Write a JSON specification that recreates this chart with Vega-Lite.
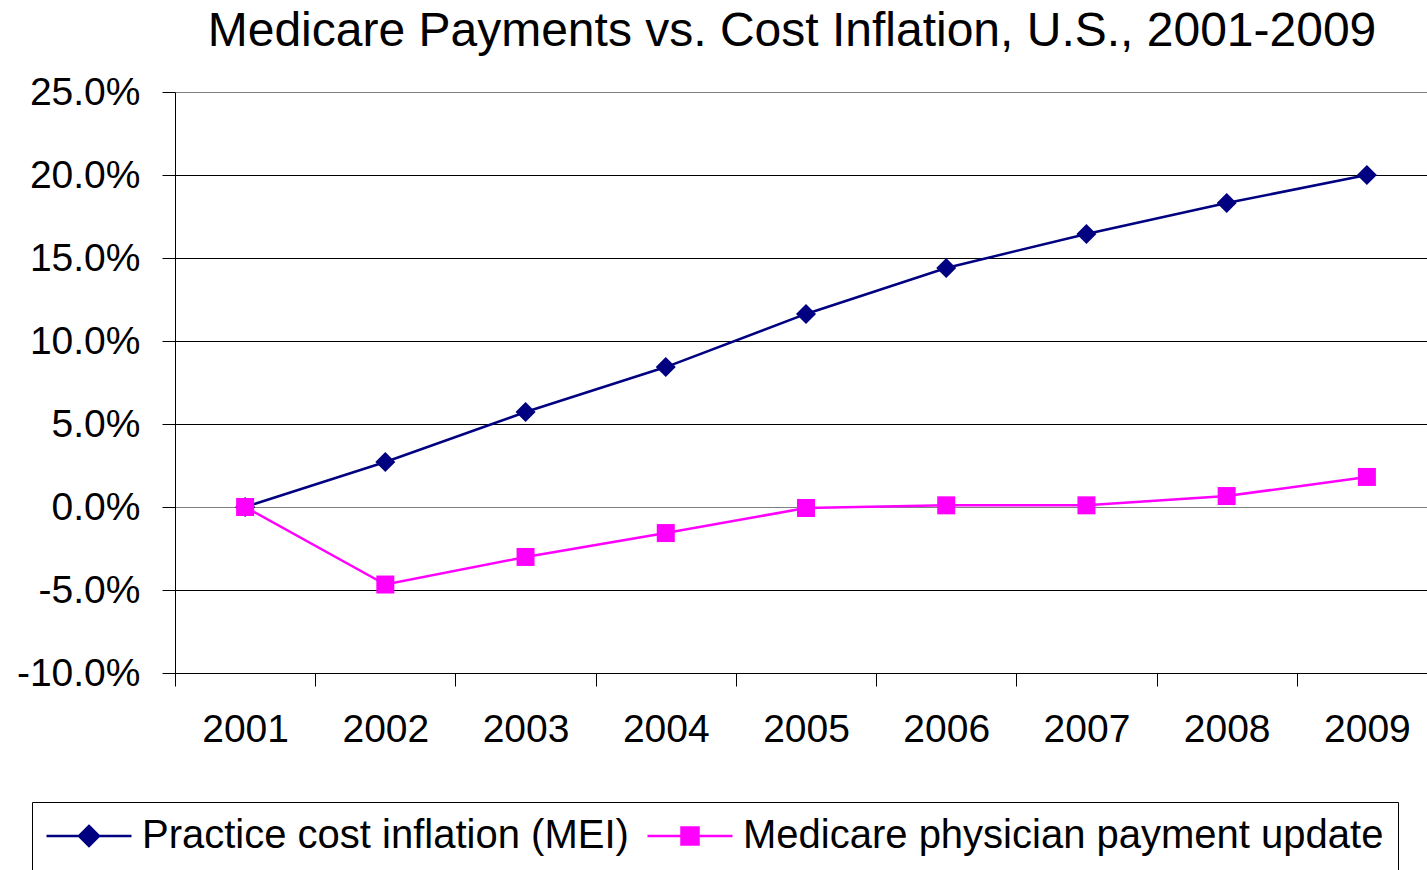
{
  "$schema": "https://vega.github.io/schema/vega-lite/v6.json",
  "width": 1262,
  "height": 581,
  "autosize": {"type": "none"},
  "padding": {"left": 175, "top": 92, "right": 0, "bottom": 197},
  "background": "white",
  "config": {
    "view": {"stroke": null},
    "font": "Liberation Sans"
  },
  "title": {
    "text": "Medicare Payments vs. Cost Inflation, U.S., 2001-2009",
    "font": "Liberation Sans",
    "fontSize": 48,
    "fontWeight": "normal",
    "color": "black",
    "anchor": "middle",
    "baseline": "alphabetic",
    "offset": -21,
    "dx": -14
  },
  "data": {
    "values": [
      {"year": "2001", "series": "Practice cost inflation (MEI)", "value": 0.0},
      {"year": "2002", "series": "Practice cost inflation (MEI)", "value": 0.0271},
      {"year": "2003", "series": "Practice cost inflation (MEI)", "value": 0.0572},
      {"year": "2004", "series": "Practice cost inflation (MEI)", "value": 0.0843},
      {"year": "2005", "series": "Practice cost inflation (MEI)", "value": 0.1163},
      {"year": "2006", "series": "Practice cost inflation (MEI)", "value": 0.1440},
      {"year": "2007", "series": "Practice cost inflation (MEI)", "value": 0.1645},
      {"year": "2008", "series": "Practice cost inflation (MEI)", "value": 0.1831},
      {"year": "2009", "series": "Practice cost inflation (MEI)", "value": 0.2000},
      {"year": "2001", "series": "Medicare physician payment update", "value": 0.0},
      {"year": "2002", "series": "Medicare physician payment update", "value": -0.0467},
      {"year": "2003", "series": "Medicare physician payment update", "value": -0.0301},
      {"year": "2004", "series": "Medicare physician payment update", "value": -0.0157},
      {"year": "2005", "series": "Medicare physician payment update", "value": -0.0006},
      {"year": "2006", "series": "Medicare physician payment update", "value": 0.0010},
      {"year": "2007", "series": "Medicare physician payment update", "value": 0.0010},
      {"year": "2008", "series": "Medicare physician payment update", "value": 0.0066},
      {"year": "2009", "series": "Medicare physician payment update", "value": 0.0181}
    ]
  },
  "encoding": {
    "x": {
      "field": "year",
      "type": "ordinal",
      "bandPosition": 0.5,
      "scale": {"type": "band", "paddingInner": 0, "paddingOuter": 0},
      "axis": {
        "title": null,
        "labelAngle": 0,
        "labelFont": "Liberation Sans",
        "labelFontSize": 39,
        "labelColor": "black",
        "labelPadding": 24,
        "tickBand": "extent",
        "tickSize": 13,
        "tickColor": "black",
        "tickWidth": 1,
        "domainColor": "black",
        "domainWidth": 1,
        "grid": false
      }
    },
    "y": {
      "field": "value",
      "type": "quantitative",
      "scale": {"domain": [-0.1, 0.25], "nice": false, "zero": false},
      "axis": {
        "title": null,
        "labelExpr": "replace(format(datum.value, '.1%'), '\u2212', '-')",
        "values": [-0.1, -0.05, 0, 0.05, 0.1, 0.15, 0.2, 0.25],
        "labelFont": "Liberation Sans",
        "labelFontSize": 39,
        "labelColor": "black",
        "labelPadding": 22,
        "tickSize": 13,
        "tickColor": "black",
        "tickWidth": 1,
        "domainColor": "black",
        "domainWidth": 1,
        "grid": true,
        "gridColor": {"condition": {"test": "datum.value === 0 || datum.value === 0.25", "value": "#808080"}, "value": "black"},
        "gridWidth": 1,
        "gridOpacity": 1
      }
    },
    "color": {
      "field": "series",
      "type": "nominal",
      "scale": {
        "domain": ["Practice cost inflation (MEI)", "Medicare physician payment update"],
        "range": ["#000080", "#FF00FF"]
      },
      "legend": {
        "title": null,
        "orient": "none",
        "legendX": -143,
        "legendY": 710,
        "direction": "horizontal",
        "columns": 2,
        "columnPadding": 13,
        "labelOffset": 33,
        "symbolOffset": 23,
        "labelFont": "Liberation Sans",
        "labelFontSize": 40,
        "labelColor": "black",
        "labelLimit": 1000,
        "symbolSize": 400,
        "symbolStrokeWidth": 2.5,
        "strokeColor": "black",
        "padding": 14,
        "fillColor": "white",
        "encode": {
          "symbols": {
            "update": {
              "shape": {"signal": "datum.value === 'Practice cost inflation (MEI)' ? 'M-4.25,0H4.25M0,-1L1,0L0,1L-1,0Z' : 'M-4.25,0H4.25M-0.85,-0.85H0.85V0.85H-0.85Z'"},
              "fill": {"scale": "color", "field": "value"},
              "stroke": {"scale": "color", "field": "value"},
              "strokeWidth": {"value": 2.5},
              "opacity": {"value": 1},
              "fillOpacity": {"value": 1}
            }
          }
        }
      }
    }
  },
  "layer": [
    {
      "mark": {"type": "line", "strokeWidth": 2.5}
    },
    {
      "transform": [{"filter": "datum.series === 'Practice cost inflation (MEI)'"}],
      "mark": {"type": "point", "filled": true, "opacity": 1, "strokeWidth": 0, "shape": "diamond", "size": 400}
    },
    {
      "transform": [{"filter": "datum.series === 'Medicare physician payment update'"}],
      "mark": {"type": "point", "filled": true, "opacity": 1, "strokeWidth": 0, "shape": "square", "size": 324}
    }
  ]
}
